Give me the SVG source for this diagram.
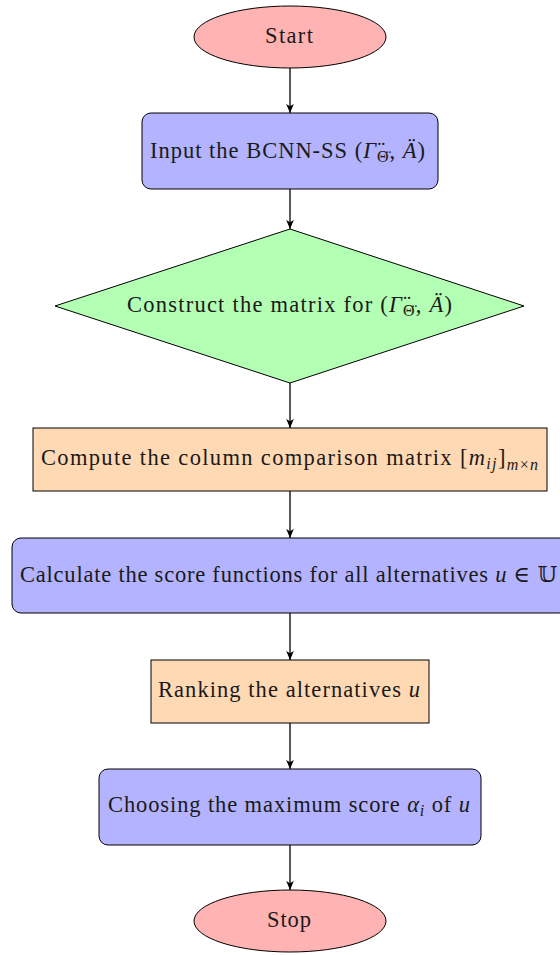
<svg xmlns="http://www.w3.org/2000/svg" width="560" height="955" viewBox="0 0 560 955">
<style>
.t{font-family:"Liberation Serif","DejaVu Serif",serif;font-size:22.5px;fill:#1a1a1a}
.i{font-style:italic}
.s{font-size:16px}
.m{font-family:"DejaVu Serif","DejaVu Sans",serif;font-style:normal}
.sh{stroke:#000;stroke-width:1}
.red{fill:#ffb3b3}.blue{fill:#b3b3ff}.green{fill:#b3ffb3}.orange{fill:#ffd9b3}
.c{stroke:#000;stroke-width:1.3;fill:none;marker-end:url(#ah)}
</style>
<defs>
<marker id="ah" markerUnits="userSpaceOnUse" markerWidth="10" markerHeight="10" refX="9" refY="5" orient="auto">
<path d="M0,1.2 L9,5 L0,8.8 L2.2,5 Z" fill="#000"/>
</marker>
</defs>
<rect width="560" height="955" fill="#fff"/>
<g id="connectors">
<line class="c" x1="290" y1="68" x2="290" y2="113"/>
<line class="c" x1="290" y1="189" x2="290" y2="229"/>
<line class="c" x1="290" y1="383" x2="290" y2="428"/>
<line class="c" x1="290" y1="491" x2="290" y2="538"/>
<line class="c" x1="290" y1="613" x2="290" y2="660"/>
<line class="c" x1="290" y1="723" x2="290" y2="769"/>
<line class="c" x1="290" y1="845" x2="290" y2="890"/>
</g>
<g id="start">
<ellipse class="sh red" cx="290" cy="37" rx="96" ry="31"/>
<text class="t" x="265" y="42.5" textLength="48">Start</text>
</g>
<g id="input">
<rect class="sh blue" x="142" y="113" width="296" height="76" rx="9"/>
<text class="t" x="150" y="158" textLength="275">Input the BCNN-SS (<tspan class="i">Γ̈</tspan><tspan class="s" dy="4">Θ̈</tspan><tspan dy="-4">, </tspan><tspan class="i">Ä</tspan>)</text>
</g>
<g id="construct">
<polygon class="sh green" points="290,229 524,306 290,383 55,306"/>
<text class="t" x="127" y="312" textLength="325">Construct the matrix for (<tspan class="i">Γ̈</tspan><tspan class="s" dy="4">Θ̈</tspan><tspan dy="-4">, </tspan><tspan class="i">Ä</tspan>)</text>
</g>
<g id="compute">
<rect class="sh orange" x="33" y="428" width="514" height="63"/>
<text class="t" x="41" y="465" textLength="497">Compute the column comparison matrix [<tspan class="i">m</tspan><tspan class="s i" dy="4">ij</tspan><tspan dy="-4">]</tspan><tspan class="s i" dy="5">m</tspan><tspan class="s">×</tspan><tspan class="s i">n</tspan></text>
</g>
<g id="calculate">
<rect class="sh blue" x="12" y="538" width="556" height="75" rx="9"/>
<text class="t" x="20" y="582" textLength="537">Calculate the score functions for all alternatives <tspan class="i">u</tspan> <tspan class="m">∈</tspan> <tspan class="m">𝕌</tspan></text>
</g>
<g id="ranking">
<rect class="sh orange" x="151" y="660" width="278" height="63"/>
<text class="t" x="158" y="697" textLength="262">Ranking the alternatives <tspan class="i">u</tspan></text>
</g>
<g id="choosing">
<rect class="sh blue" x="99" y="769" width="382" height="76" rx="9"/>
<text class="t" x="108" y="812" textLength="362">Choosing the maximum score <tspan class="i">α</tspan><tspan class="s i" dy="4">i</tspan><tspan dy="-4"> of </tspan><tspan class="i">u</tspan></text>
</g>
<g id="stop">
<ellipse class="sh red" cx="290" cy="921" rx="96" ry="31"/>
<text class="t" x="267" y="927" textLength="44">Stop</text>
</g>
</svg>
